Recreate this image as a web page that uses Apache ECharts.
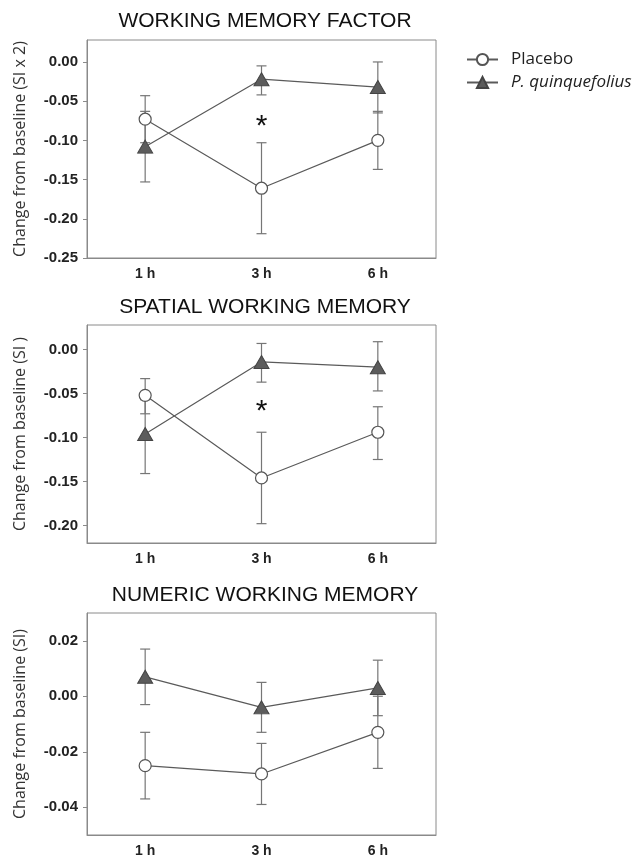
<!DOCTYPE html>
<html>
<head>
<meta charset="utf-8">
<script src="https://cdn.jsdelivr.net/npm/echarts@6/dist/echarts.min.js"></script>
<style>html,body{margin:0;padding:0;background:#fff}#c{width:642px;height:859px}</style>
</head>
<body>
<div id="c"></div>
<script>
// ---------- data ----------
const categories = ['1 h', '3 h', '6 h'];
const seriesNames = ['Placebo', 'P. quinquefolius'];
const panelTitles = ['WORKING MEMORY FACTOR', 'SPATIAL WORKING MEMORY', 'NUMERIC WORKING MEMORY'];
const yAxisNames = ['Change from baseline (SI x 2)', 'Change from baseline (SI )', 'Change from baseline (SI)'];

// Working memory factor
const wmfPlacebo = [-0.073, -0.161, -0.100];
const wmfPlaceboLow = [-0.103, -0.219, -0.137];
const wmfPlaceboHigh = [-0.043, -0.103, -0.063];
const wmfPq = [-0.108, -0.022, -0.032];
const wmfPqLow = [-0.153, -0.042, -0.065];
const wmfPqHigh = [-0.063, -0.005, 0.000];
const wmfTicks = [-0.25, -0.20, -0.15, -0.10, -0.05, 0.00];
const wmfRange = [-0.25, 0.028];
const wmfStar = -0.077;

// Spatial working memory
const swmPlacebo = [-0.052, -0.146, -0.094];
const swmPlaceboLow = [-0.073, -0.198, -0.125];
const swmPlaceboHigh = [-0.033, -0.094, -0.065];
const swmPq = [-0.096, -0.014, -0.020];
const swmPqLow = [-0.141, -0.037, -0.047];
const swmPqHigh = [-0.057, 0.007, 0.009];
const swmTicks = [-0.20, -0.15, -0.10, -0.05, 0.00];
const swmRange = [-0.22, 0.028];
const swmStar = -0.066;

// Numeric working memory
const nwmPlacebo = [-0.025, -0.028, -0.013];
const nwmPlaceboLow = [-0.037, -0.039, -0.026];
const nwmPlaceboHigh = [-0.013, -0.017, 0.000];
const nwmPq = [0.007, -0.004, 0.003];
const nwmPqLow = [-0.003, -0.013, -0.007];
const nwmPqHigh = [0.017, 0.005, 0.013];
const nwmTicks = [-0.04, -0.02, 0.00, 0.02];
const nwmRange = [-0.05, 0.03];

const starCategory = '3 h';

// ---------- build ----------
const panels = [
  {pl: wmfPlacebo, plLo: wmfPlaceboLow, plHi: wmfPlaceboHigh, pq: wmfPq, pqLo: wmfPqLow, pqHi: wmfPqHigh, ticks: wmfTicks, range: wmfRange, star: wmfStar},
  {pl: swmPlacebo, plLo: swmPlaceboLow, plHi: swmPlaceboHigh, pq: swmPq, pqLo: swmPqLow, pqHi: swmPqHigh, ticks: swmTicks, range: swmRange, star: swmStar},
  {pl: nwmPlacebo, plLo: nwmPlaceboLow, plHi: nwmPlaceboHigh, pq: nwmPq, pqLo: nwmPqLow, pqHi: nwmPqHigh, ticks: nwmTicks, range: nwmRange, star: null}
];

const gridLayout = [
  {top: 40, height: 218},
  {top: 325, height: 218},
  {top: 613, height: 222}
];
const titleY = [21, 307, 595];

const LINE = '#5a5a5a';
const BAR = '#767676';
const AXIS = '#8a8a8a';

function errRender(params, api) {
  const x = api.value(0);
  const pLo = api.coord([x, api.value(1)]);
  const pHi = api.coord([x, api.value(2)]);
  const hw = 5;
  const style = {stroke: BAR, lineWidth: 1.2, fill: null};
  return {
    type: 'group',
    children: [
      {type: 'line', shape: {x1: pLo[0], y1: pLo[1], x2: pHi[0], y2: pHi[1]}, style: style},
      {type: 'line', shape: {x1: pLo[0] - hw, y1: pLo[1], x2: pLo[0] + hw, y2: pLo[1]}, style: style},
      {type: 'line', shape: {x1: pHi[0] - hw, y1: pHi[1], x2: pHi[0] + hw, y2: pHi[1]}, style: style}
    ]
  };
}

const grids = [], xAxes = [], yAxes = [], series = [];
panels.forEach((p, i) => {
  grids.push({left: 87, width: 349, top: gridLayout[i].top, height: gridLayout[i].height,
    show: true, borderColor: AXIS, borderWidth: 1, backgroundColor: 'transparent'});
  xAxes.push({
    type: 'category', gridIndex: i, data: categories, boundaryGap: true,
    axisLine: {onZero: false, lineStyle: {color: AXIS, width: 1}},
    axisTick: {alignWithLabel: true, length: 4, lineStyle: {color: AXIS}},
    axisLabel: {fontFamily: 'Liberation Sans', fontSize: 14, fontWeight: 'bold', color: '#222', margin: 9},
    splitLine: {show: false}
  });
  yAxes.push({
    type: 'value', gridIndex: i, min: p.range[0], max: p.range[1],
    name: yAxisNames[i], nameLocation: 'middle', nameRotate: 90, nameGap: 59,
    nameTextStyle: {fontFamily: 'Open Sans', fontSize: 16, color: '#333'},
    axisLine: {show: true, onZero: false, lineStyle: {color: AXIS, width: 1}},
    axisTick: {show: true, length: 4, inside: false, customValues: p.ticks, lineStyle: {color: AXIS}},
    axisLabel: {customValues: p.ticks, formatter: v => v.toFixed(2), fontFamily: 'Liberation Sans',
      fontSize: 15, fontWeight: 'bold', color: '#222', margin: 9},
    splitLine: {show: false}
  });
  // error bars
  series.push({
    type: 'custom', name: 'err-pl-' + i, xAxisIndex: i, yAxisIndex: i, z: 1,
    renderItem: errRender, encode: {x: 0, y: [1, 2]},
    data: categories.map((c, k) => [k, p.plLo[k], p.plHi[k]]), silent: true
  });
  series.push({
    type: 'custom', name: 'err-pq-' + i, xAxisIndex: i, yAxisIndex: i, z: 1,
    renderItem: errRender, encode: {x: 0, y: [1, 2]},
    data: categories.map((c, k) => [k, p.pqLo[k], p.pqHi[k]]), silent: true
  });
  const plSeries = {
    type: 'line', name: seriesNames[0], xAxisIndex: i, yAxisIndex: i, z: 3,
    data: p.pl, symbol: 'circle', symbolSize: 12, showAllSymbol: true,
    lineStyle: {color: LINE, width: 1.2},
    itemStyle: {color: '#ffffff', borderColor: '#555', borderWidth: 1.2},
    emphasis: {disabled: true}, animation: false
  };
  if (p.star !== null) {
    plSeries.markPoint = {
      symbol: 'circle', symbolSize: 1, itemStyle: {color: 'rgba(0,0,0,0)'},
      label: {show: true, position: 'inside', formatter: '*', fontFamily: 'Liberation Sans',
        fontSize: 30, color: '#111', offset: [0, 4]},
      data: [{coord: [starCategory, p.star]}], silent: true
    };
  }
  series.push(plSeries);
  series.push({
    type: 'line', name: seriesNames[1], xAxisIndex: i, yAxisIndex: i, z: 4,
    data: p.pq, symbol: 'triangle', symbolSize: [15, 13], showAllSymbol: true,
    lineStyle: {color: LINE, width: 1.2},
    itemStyle: {color: '#5c5c5c', borderColor: '#444', borderWidth: 1},
    emphasis: {disabled: true}, animation: false
  });
});

const titleGraphics = panelTitles.map((t, i) => ({
  type: 'text', x: 265, y: titleY[i],
  style: {text: t, fontFamily: 'Liberation Sans', fontSize: 21, fill: '#111',
    textAlign: 'center', textVerticalAlign: 'middle'}
}));

const chart = echarts.init(document.getElementById('c'), null, {renderer: 'canvas'});
chart.setOption({
  animation: false,
  backgroundColor: '#fff',
  grid: grids,
  xAxis: xAxes,
  yAxis: yAxes,
  series: series,
  legend: {
    orient: 'vertical', left: 466, top: 51, padding: 0, itemWidth: 31, itemHeight: 14, itemGap: 6,
    textStyle: {fontFamily: 'Open Sans', fontSize: 17, color: '#222', padding: [0, 0, 0, 8]},
    data: [
      {name: seriesNames[0]},
      {name: seriesNames[1], textStyle: {fontStyle: 'italic'}}
    ],
    selectedMode: false
  },
  graphic: titleGraphics
});
</script>
</body>
</html>
